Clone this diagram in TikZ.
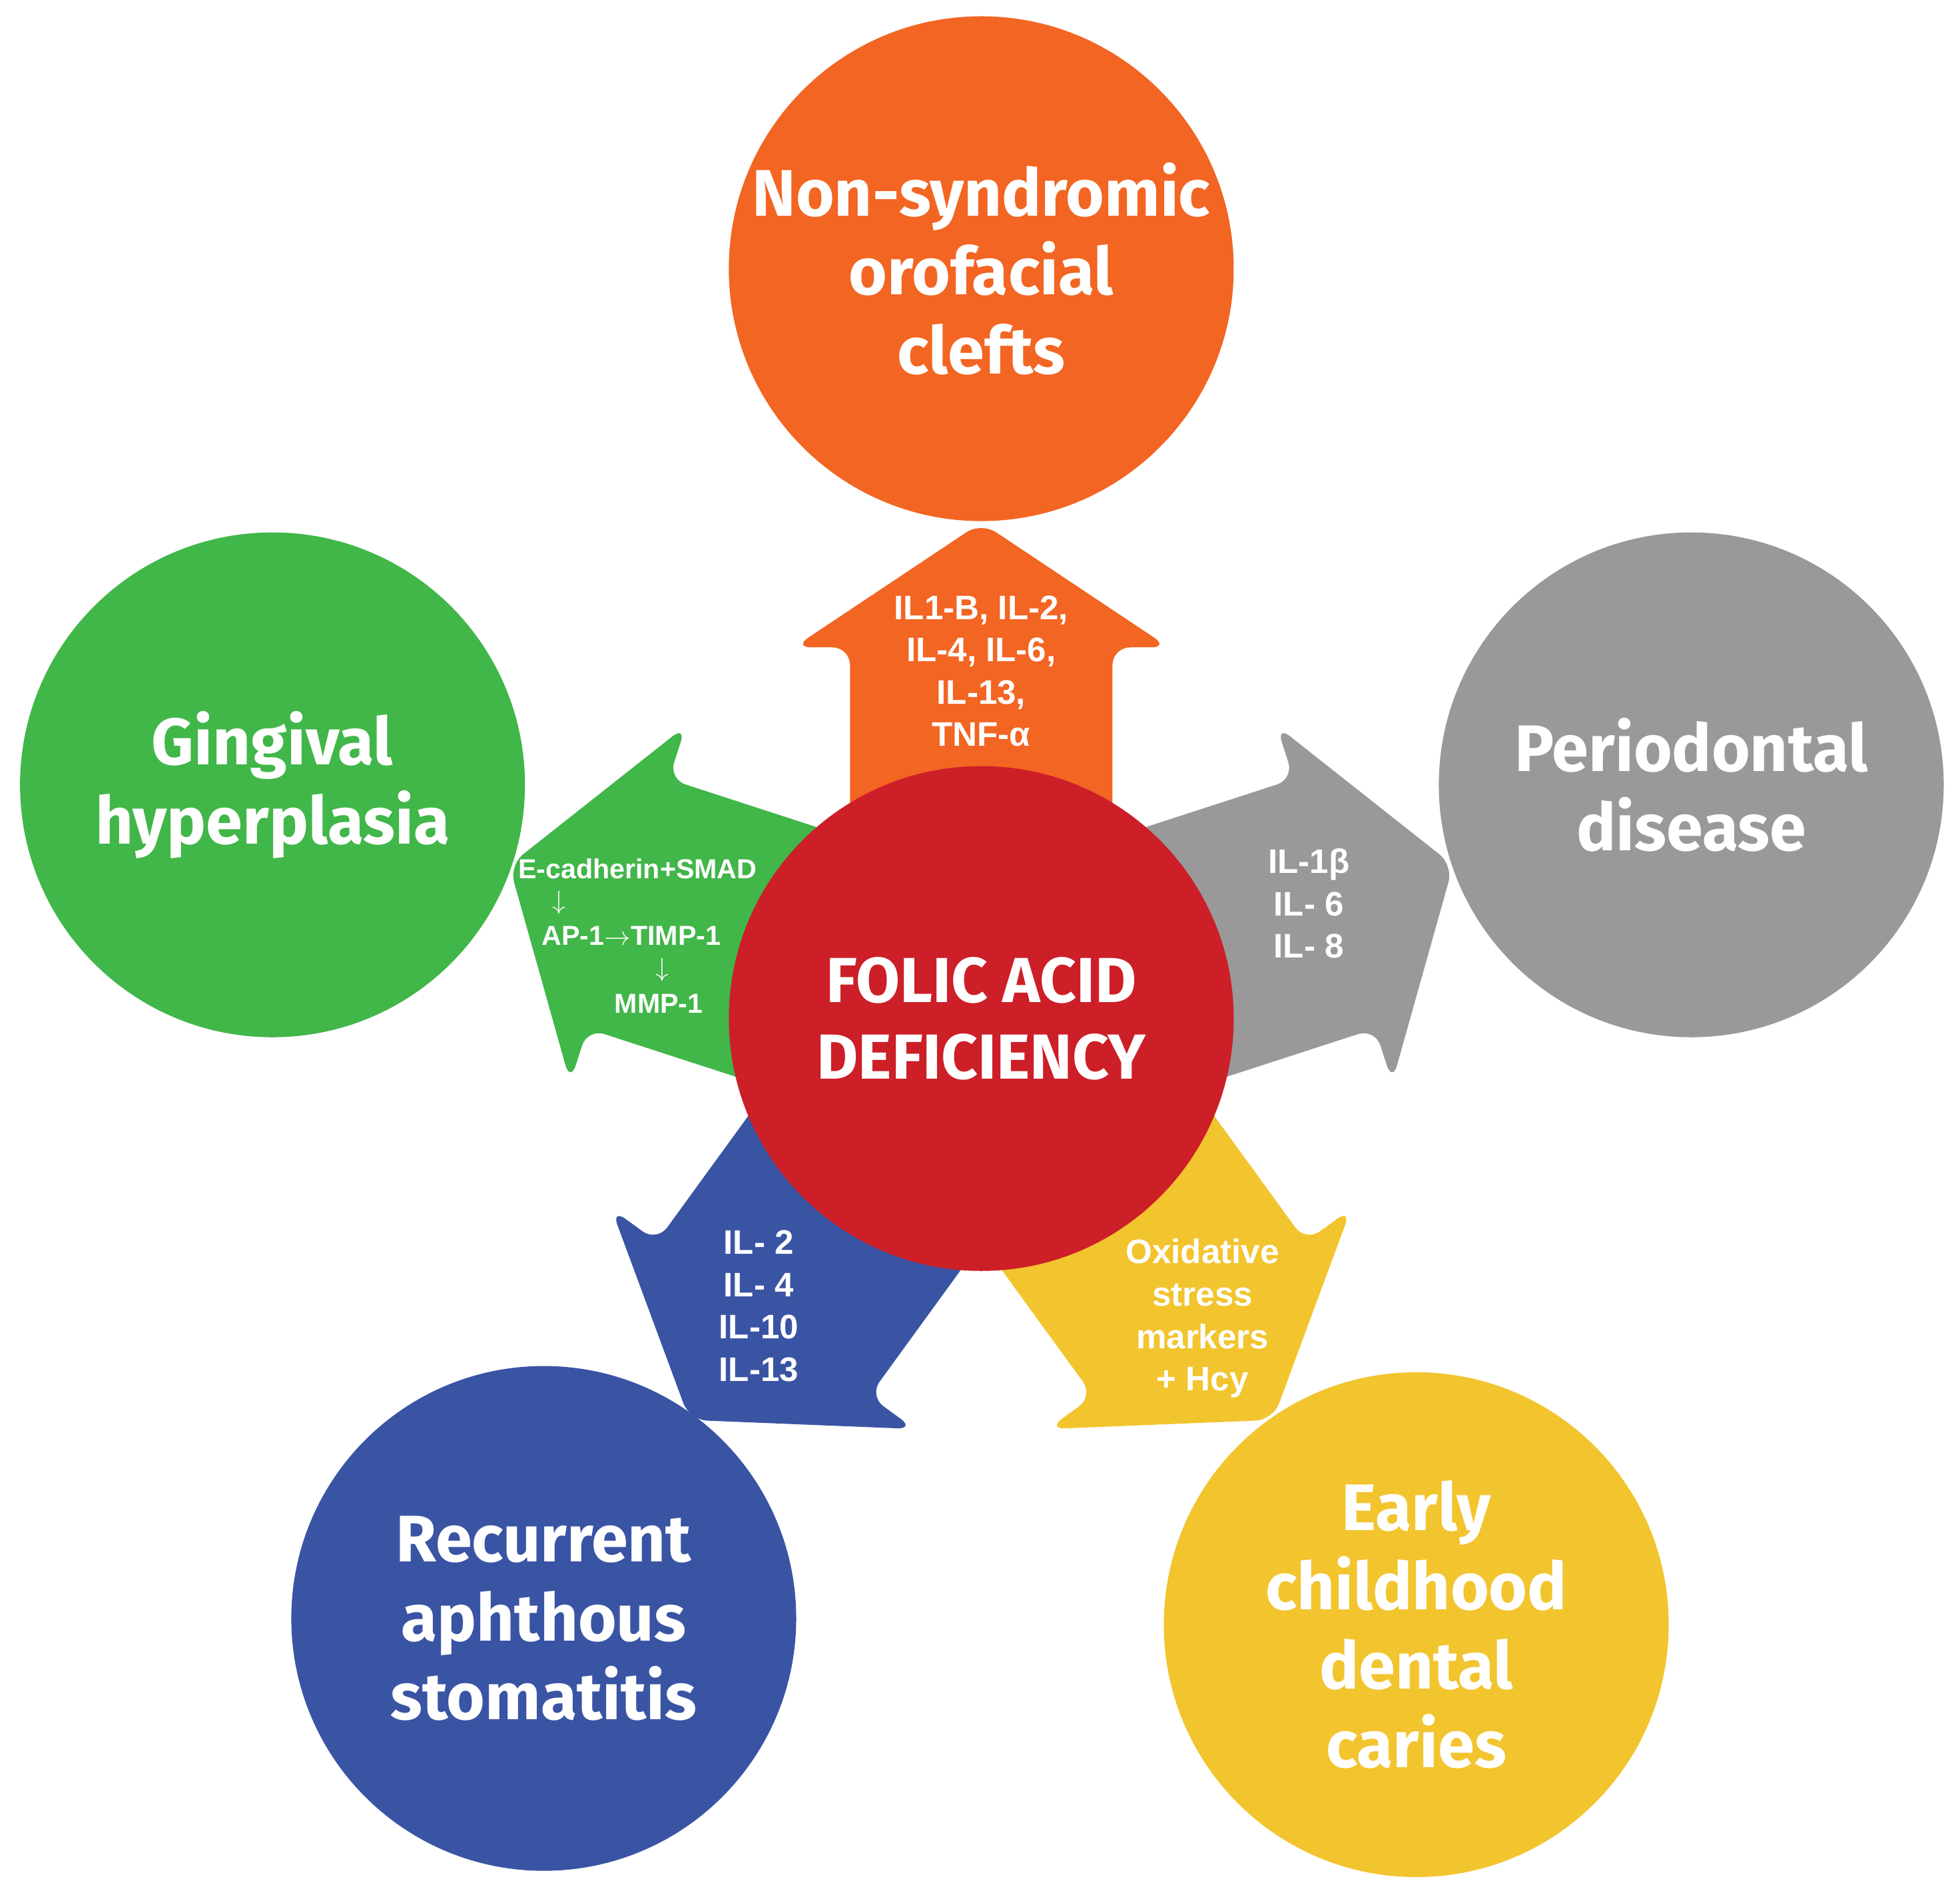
\documentclass[tikz,border=0pt]{standalone}
\usepackage{fontspec}
\setmainfont{Fira Sans}
\newfontfamily\arw{Liberation Sans}
\definecolor{cor}{HTML}{F26522}
\definecolor{cred}{HTML}{CC1F27}
\definecolor{cgr}{HTML}{41B649}
\definecolor{cgy}{HTML}{999999}
\definecolor{cbl}{HTML}{3A54A4}
\definecolor{cye}{HTML}{F2C42E}
\begin{document}
\begin{tikzpicture}[x=0.02cm,y=0.02cm,
  circ/.style={circle,minimum size=8.08cm,inner sep=0pt,text=white,align=center,font=\fontsize{30}{36}\selectfont\bfseries},
  atxt/.style={text=white,align=center,font=\arw\fontsize{15.5}{19.3}\selectfont\bfseries},
  gtxt/.style={text=white,inner sep=0pt,font=\arw\fontsize{12.5}{15}\selectfont\bfseries}]
\useasboundingbox (0,0) rectangle (1568,-1513);
\foreach \a/\c in {90/cor,162/cgr,18/cgy,234/cbl,306/cye}{
  \begin{scope}[shift={(785,-815)},rotate=\a-90]
    \fill[\c,rounded corners=8pt] (-105,150) -- (-105,297) -- (-150,297) -- (0,397) -- (150,297) -- (105,297) -- (105,150) -- cycle;
  \end{scope}}
\node[circ,fill=cred,font=\fontsize{29}{35}\selectfont\bfseries] (fa) at (785,-815) {FOLIC ACID\\DEFICIENCY};
\node[circ,fill=cor] (nc) at (785,-215) {Non-syndromic\\orofacial\\clefts};
\node[circ,fill=cgr] (gh) at (218,-628) {Gingival\\hyperplasia};
\node[circ,fill=cgy] (pd) at (1353,-628) {Periodontal\\disease};
\node[circ,fill=cbl] (ra) at (435,-1295) {Recurrent\\aphthous\\stomatitis};
\node[circ,fill=cye] (ec) at (1133,-1300) {Early\\childhood\\dental\\caries};
\node[atxt] (t1) at (785,-537) {IL1-B, IL-2,\\IL-4, IL-6,\\IL-13,\\TNF-α};
\node[atxt] (t2) at (1047,-723) {IL-1β\\IL- 6\\IL- 8};
\node[atxt] (t3) at (607,-1045) {IL- 2\\IL- 4\\IL-10\\IL-13};
\node[atxt] (t4) at (962,-1055) {Oxidative\\stress\\markers\\+ Hcy};
\node[gtxt] (g1) at (510,-695) {E-cadherin+SMAD};
\node[gtxt] (g2) at (447,-722) {$\downarrow$};
\node[gtxt] (g3) at (505,-749) {AP-1$\rightarrow$TIMP-1};
\node[gtxt] (g4) at (530,-776) {$\downarrow$};
\node[gtxt] (g5) at (527,-803) {MMP-1};
\end{tikzpicture}
\end{document}
